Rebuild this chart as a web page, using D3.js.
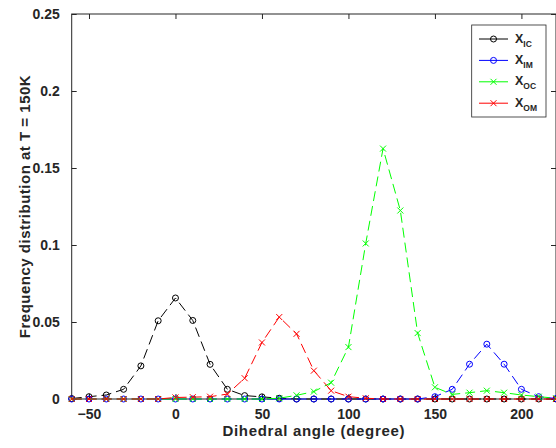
<!DOCTYPE html>
<html>
<head>
<meta charset="utf-8">
<script src="https://cdn.jsdelivr.net/npm/d3@7"></script>
<style>
  html, body { margin: 0; padding: 0; background: #fff; }
  text { font-family: "Liberation Sans", Arial, Helvetica, sans-serif; font-weight: bold; fill: #262626; }
</style>
</head>
<body>
<svg width="556" height="448"></svg>
<script>
(function (d3) {
  'use strict';

  // Dihedral angle samples (degree)
  const angles = [-60, -50, -40, -30, -20, -10, 0, 10, 20, 30, 40, 50, 60, 70, 80,
    90, 100, 110, 120, 130, 140, 150, 160, 170, 180, 190, 200, 210, 220];

  // Frequency values, one per angle
  const xIC = [0.0003, 0.0015, 0.0026, 0.0063, 0.0215, 0.0508, 0.0656, 0.051, 0.0225, 0.0063,
    0.0022, 0.0014, 0.0005, 0, 0, 0, 0, 0, 0, 0, 0, 0, 0, 0, 0, 0, 0, 0, 0];
  const xIM = [0, 0, 0, 0, 0, 0, 0, 0, 0, 0, 0, 0, 0, 0, 0, 0, 0, 0, 0, 0, 0,
    0.0015, 0.0063, 0.0226, 0.0356, 0.0226, 0.0063, 0.0015, 0.0003];
  const xOC = [0, 0, 0, 0, 0, 0, 0, 0, 0, 0, 0, 0, 0.0005, 0.0024, 0.0048, 0.0106, 0.0337,
    0.101, 0.1626, 0.1224, 0.0428, 0.0076, 0.003, 0.0041, 0.0054, 0.0041, 0.0026, 0.0015, 0.0005];
  const xOM = [0, 0, 0, 0, 0, 0, 0.001, 0.0012, 0.0015, 0.0032, 0.0135, 0.0367, 0.0532, 0.0423,
    0.0184, 0.0054, 0.0015, 0.0005, 0, 0, 0, 0, 0, 0, 0, 0, 0, 0, 0];

  const seriesNames = ['IC', 'IM', 'OC', 'OM'];
  const seriesColors = ['#000000', '#0000ff', '#00ff00', '#ff0000'];
  const seriesMarkers = ['circle', 'circle', 'cross', 'cross'];

  const xTicks = [-50, 0, 50, 100, 150, 200];
  const yTicks = [0, 0.05, 0.1, 0.15, 0.2, 0.25];

  const svg = d3.select('svg');

  // plot box (right edge sits on the window border)
  const left = 71.7, right = 556, top = 14, bottom = 399;

  const x = d3.scaleLinear().domain([-60, 220]).range([left, right]);
  const y = d3.scaleLinear().domain([0, 0.25]).range([bottom, top]);

  const axisColor = '#262626';

  // Box around the axes
  svg.append('rect')
    .attr('x', left).attr('y', top)
    .attr('width', right - left).attr('height', bottom - top)
    .attr('fill', 'none')
    .attr('stroke', axisColor)
    .attr('stroke-width', 1);

  // Inward ticks, MATLAB style
  const tickLen = 5;
  const xAxisBottom = d3.axisBottom(x).tickValues(xTicks).tickSize(-tickLen).tickPadding(10);
  const xAxisTop = d3.axisTop(x).tickValues(xTicks).tickSize(-tickLen).tickFormat('');
  const yAxisLeft = d3.axisLeft(y).tickValues(yTicks).tickSize(-tickLen).tickPadding(12)
    .tickFormat(d => d === 0 ? '0' : d3.format('')(+d.toFixed(2)));
  const yAxisRight = d3.axisRight(y).tickValues(yTicks).tickSize(-tickLen).tickFormat('');

  const styleAxis = g => {
    g.select('.domain').remove();
    g.selectAll('line').attr('stroke', axisColor);
    g.selectAll('text')
      .attr('fill', axisColor)
      .style('font-size', '14px')
      .style('font-family', '"Liberation Sans", Arial, Helvetica, sans-serif')
      .style('font-weight', 'bold');
  };

  svg.append('g').attr('transform', `translate(0,${bottom})`).call(xAxisBottom).call(styleAxis);
  svg.append('g').attr('transform', `translate(0,${top})`).call(xAxisTop).call(styleAxis);
  svg.append('g').attr('transform', `translate(${left},0)`).call(yAxisLeft).call(styleAxis);
  svg.append('g').attr('transform', `translate(${right},0)`).call(yAxisRight).call(styleAxis);

  // Axis titles
  svg.append('text')
    .attr('x', (left + right) / 2)
    .attr('y', 436)
    .attr('text-anchor', 'middle')
    .style('font-size', '15px')
    .style('letter-spacing', '0.7px')
    .text('Dihedral angle (degree)');

  svg.append('text')
    .attr('transform', `translate(30,${(top + bottom) / 2}) rotate(-90)`)
    .attr('text-anchor', 'middle')
    .style('font-size', '15px')
    .style('letter-spacing', '0.5px')
    .text('Frequency distribution at T = 150K');

  // Draw a marker of a given kind at (cx, cy)
  const drawMarker = (g, kind, cx, cy, color) => {
    if (kind === 'circle') {
      g.append('circle')
        .attr('cx', cx).attr('cy', cy).attr('r', 3)
        .attr('fill', 'none').attr('stroke', color).attr('stroke-width', 1);
    } else {
      const s = 3;
      g.append('path')
        .attr('d', `M${cx - s},${cy - s}L${cx + s},${cy + s}M${cx - s},${cy + s}L${cx + s},${cy - s}`)
        .attr('stroke', color).attr('stroke-width', 1).attr('fill', 'none');
    }
  };

  const line = d3.line().x(d => x(d[0])).y(d => y(d[1]));

  const allSeries = [xIC, xIM, xOC, xOM];
  const plotG = svg.append('g');

  allSeries.forEach((values, i) => {
    const pts = angles.map((a, j) => [a, values[j]]);
    const g = plotG.append('g');
    g.append('path')
      .datum(pts)
      .attr('d', line)
      .attr('fill', 'none')
      .attr('stroke', seriesColors[i])
      .attr('stroke-width', 1)
      .attr('stroke-dasharray', '10,5');
    pts.forEach(p => drawMarker(g, seriesMarkers[i], x(p[0]), y(p[1]), seriesColors[i]));
  });

  // Legend
  const legendG = svg.append('g');
  legendG.append('rect')
    .attr('x', 471.7).attr('y', 25)
    .attr('width', 74.3).attr('height', 92)
    .attr('fill', '#fff')
    .attr('stroke', axisColor)
    .attr('stroke-width', 0.8);

  seriesNames.forEach((name, i) => {
    const rowY = 39 + i * 21.4;
    legendG.append('line')
      .attr('x1', 479).attr('x2', 508)
      .attr('y1', rowY).attr('y2', rowY)
      .attr('stroke', seriesColors[i]).attr('stroke-width', 1);
    drawMarker(legendG, seriesMarkers[i], 493.5, rowY, seriesColors[i]);
    const t = legendG.append('text')
      .attr('x', 515)
      .attr('y', rowY + 3.5)
      .style('font-size', '12.5px')
      .text('X');
    t.append('tspan')
      .attr('dy', 4)
      .style('font-size', '8.5px')
      .text(name);
  });

}(d3));
</script>
</body>
</html>
